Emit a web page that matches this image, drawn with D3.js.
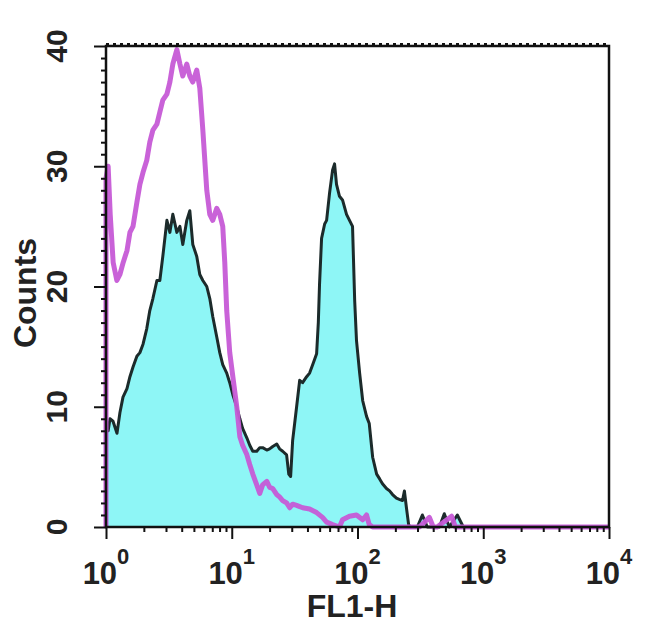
<!DOCTYPE html>
<html><head><meta charset="utf-8">
<script src="https://cdn.jsdelivr.net/npm/d3@7"></script>
<style>body{margin:0;background:#fff}svg{display:block}</style>
</head><body>
<svg id="c" width="650" height="628"></svg>
<script>
// Isotype control (magenta outline)
const isoX = [1.00,1.00,1.04,1.08,1.14,1.22,1.29,1.37,1.47,1.55,1.64,1.76,1.86,1.97,2.11,2.23,2.36,2.54,2.68,2.83,3.05,3.22,3.40,3.66,3.87,4.08,4.39,4.64,4.90,5.27,5.57,5.89,6.33,6.69,7.06,7.60,8.03,8.48,8.80,9.12,9.64,10.2,10.96,11.6,12.2,13.2,13.9,14.7,15.8,16.7,17.6,19.0,20.0,21.2,22.8,24.0,25.4,27.3,28.9,30.5,32.8,36.6,41.6,47.3,52.7,56.8,63.4,71.9,76,86.4,98.2,110,118,124,132,311,373,400,430,560,600,10000];
const isoY = [0,29,30,26,22,20.5,21,22,23,24.5,25,27,28.5,29.5,30.5,32,33,33.5,34.5,35.5,36,37,38.5,39.7,38.5,37.5,38.5,37.5,37,38,36.5,33,28,26,25.5,26.5,26,25,22,18,14.5,12.5,10,7.5,6.8,6,5.2,4.4,3.5,2.8,3.5,3.8,3.3,3.2,2.7,2.5,2.2,2.0,1.6,1.9,1.8,1.6,1.5,1.2,0.8,0.4,0.2,0,0.6,0.9,1.0,0.6,1.0,0.2,0,0,0.8,0,0,0.9,0,0];

// Stained sample (cyan filled, dark outline)
const stainX = [1.00,1.00,1.04,1.076,1.137,1.223,1.29,1.365,1.468,1.55,1.64,1.76,1.86,1.97,2.11,2.23,2.36,2.54,2.68,2.83,3.05,3.22,3.40,3.66,3.87,4.08,4.39,4.64,4.90,5.27,5.57,5.89,6.33,6.69,7.06,7.60,8.03,8.48,9.12,9.64,10.2,10.96,11.6,12.2,13.2,13.9,14.7,15.8,16.7,17.6,19.0,20.0,21.2,22.8,24.0,25.4,27.3,28.4,29.4,30.5,32.8,34.7,36.6,39.4,41.6,44.0,47.3,48.8,49.9,51.8,54.8,56.8,60.0,63.4,65.7,68.1,71.9,76.0,81.8,86.4,91.3,95,98.2,104,110,118,124,132,142,150,158,170,180,190,204,215,228,236,245,255,264,299,328,359,448,490,537,622,694,10000];
const stainY = [0,8,8,9,8.8,7.8,9.5,10.8,11.5,12.5,13.3,14.2,14.5,15.2,16.5,18,19,20.5,20.5,22.5,25.5,24.5,26,24.5,25,23.5,25.5,26.3,23.5,22.5,21,20.5,20,19,17.5,15.8,14.5,13.5,12.8,12,11,10,9,8.2,7.4,6.8,6.3,6.3,6.6,6.6,6.4,6.5,6.7,6.9,6.5,6.3,6.0,4.4,4.2,7.2,10,12.2,12.0,12.5,12.8,13.5,14.4,17,20.2,24,25.2,25.5,27.8,29.7,30.2,28.5,27.5,27.2,26,25.5,25,18.8,15.5,12.8,10.5,9.2,8.6,5.8,4.4,4.0,3.6,3.2,3.0,2.7,2.4,2.3,2.2,3.0,1.6,0.2,0,0,1.0,0,0,1.1,0,1.0,0,0];

const xTickValues = [1, 10, 100, 1000, 10000];
const xTickExponents = ["0", "1", "2", "3", "4"];
const yTickValues = [0, 10, 20, 30, 40];
const xAxisLabel = "FL1-H";
const yAxisLabel = "Counts";

const svg = d3.select("#c");
const L = 106, R = 609, T = 46, B = 527;
const x = d3.scaleLog().domain([1, 10000]).range([L, R]);
const y = d3.scaleLinear().domain([0, 40]).range([B, T]);
const font = "'Liberation Sans', Arial, sans-serif";

const iso = isoX.map((v, i) => [v, isoY[i]]);
const stain = stainX.map((v, i) => [v, stainY[i]]);

// cyan filled histogram
svg.append("path")
  .datum(stain)
  .attr("d", d3.area().x(d => x(d[0])).y0(y(0)).y1(d => y(d[1])))
  .attr("fill", "#8ef6f6");

svg.append("path")
  .datum(stain)
  .attr("d", d3.line().x(d => x(d[0])).y(d => y(d[1])))
  .attr("fill", "none")
  .attr("stroke", "#1c2b2b")
  .attr("stroke-width", 3)
  .attr("stroke-linejoin", "round");

// magenta isotype line
svg.append("path")
  .datum(iso)
  .attr("d", d3.line().x(d => x(d[0])).y(d => y(d[1])))
  .attr("fill", "none")
  .attr("stroke", "#c65ad6")
  .attr("stroke-width", 5)
  .attr("stroke-linejoin", "round")
  .attr("opacity", 0.95);

// frame
const frame = svg.append("g").attr("fill", "none").attr("stroke", "#111");
frame.append("rect").attr("x", L).attr("y", T).attr("width", R - L).attr("height", B - T).attr("stroke-width", 2.5);
frame.append("line").attr("x1", L).attr("x2", R).attr("y1", T - 1).attr("y2", T - 1)
  .attr("stroke-width", 4).attr("stroke-dasharray", "3,4");

// left axis
const yAxis = d3.axisLeft(y).tickValues(d3.range(0, 41, 1)).tickSize(5).tickFormat("");
const gy = svg.append("g").attr("transform", `translate(${L},0)`).call(yAxis);
gy.select(".domain").remove();
gy.selectAll(".tick line").attr("stroke", "#111").attr("stroke-width", 2)
  .attr("x2", d => (d % 10 === 0 ? -12 : -5));

svg.append("g").selectAll("text").data(yTickValues).join("text")
  .attr("transform", d => `translate(67,${y(d)}) rotate(-90)`)
  .attr("text-anchor", "middle")
  .attr("font-family", font).attr("font-size", 30).attr("font-weight", "bold").attr("fill", "#222")
  .text(d => d);

// bottom axis
const minor = [];
for (let e = 0; e < 4; e++) for (let k = 1; k <= 9; k++) minor.push(k * Math.pow(10, e));
minor.push(10000);
const xAxis = d3.axisBottom(x).tickValues(minor).tickSize(5).tickFormat("");
const gx = svg.append("g").attr("transform", `translate(0,${B})`).call(xAxis);
gx.select(".domain").remove();
gx.selectAll(".tick line").attr("stroke", "#111").attr("stroke-width", 2)
  .attr("y2", d => (xTickValues.includes(d) ? 12 : 5));

const xl = svg.append("g").selectAll("text").data(xTickValues).join("text")
  .attr("x", d => x(d)).attr("y", 584)
  .attr("text-anchor", "middle")
  .attr("font-family", font).attr("font-size", 31).attr("font-weight", "bold").attr("fill", "#222");
xl.append("tspan").text("10");
xl.append("tspan").attr("dy", -20).attr("font-size", 22).text((d, i) => xTickExponents[i]);

// axis titles
svg.append("text").attr("x", 352).attr("y", 617).attr("text-anchor", "middle")
  .attr("font-family", font).attr("font-size", 32).attr("font-weight", "bold").attr("fill", "#222").text(xAxisLabel);
svg.append("text").attr("transform", "translate(36,293) rotate(-90)").attr("text-anchor", "middle")
  .attr("font-family", font).attr("font-size", 32).attr("font-weight", "bold").attr("fill", "#222").text(yAxisLabel);
</script>
</body></html>
